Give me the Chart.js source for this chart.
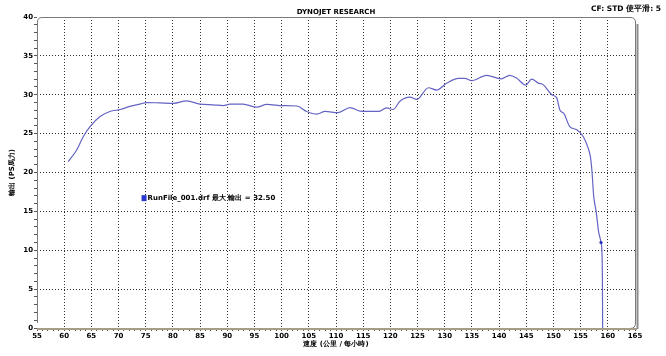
<!DOCTYPE html>
<html><head><meta charset="utf-8">
<script src="https://cdn.jsdelivr.net/npm/chart.js@4/dist/chart.umd.min.js"></script>
<style>html,body{margin:0;padding:0;background:#fff}#wrap{width:666px;height:356px}</style>
</head><body><div id="wrap"><canvas id="c" width="666" height="356"></canvas></div>
<script>
const speed = [60.75,62.3,63.5,64.75,66.6,68.4,70.3,72.1,73.9,75.2,77.6,80.1,82.5,85.0,87.4,89.3,90.5,92.9,95.4,97.25,100.3,102.8,104.6,106.5,108.0,110.4,112.6,114.4,117.8,119.3,120.5,121.8,123.6,124.85,127.0,128.5,130.4,132.5,133.7,134.95,137.7,140.4,141.95,143.2,144.9,146.0,147.2,148.1,149.7,150.6,151.2,151.9,153.0,154.3,155.5,156.4,156.8,157.1,157.4,157.9,158.3,158.75,158.9,159.0,159.05];
const power = [21.4,22.9,24.6,25.9,27.2,27.85,28.1,28.5,28.8,29.0,28.95,28.9,29.2,28.8,28.7,28.6,28.8,28.8,28.4,28.75,28.6,28.55,27.85,27.5,27.85,27.7,28.35,27.9,27.85,28.3,28.1,29.2,29.7,29.4,30.9,30.6,31.5,32.1,32.1,31.8,32.5,32.05,32.5,32.15,31.25,32.0,31.5,31.3,30.0,29.6,28.0,27.6,25.9,25.5,24.6,23.1,22.0,20.0,17.0,14.75,12.4,11.0,10.0,6.6,0];
const markerSpeed = 158.75;
const titleText = 'DYNOJET RESEARCH';
const cornerText = 'CF: STD 使平滑: 5';
const xTitle = '速度 (公里 / 每小時)';
const yTitle = '輸出 (PS馬力)';
const legendText = 'RunFile_001.drf 最大 輸出 = 32.50';
const legendPos = [74.6, 16.7];
const xRange = [55, 165];
const yRange = [0, 40];

const F = '"DejaVu Sans", Verdana, sans-serif';
const lineColor = '#6464c4';
const gridColor = '#303030';

const deco = {
  id: 'deco',
  afterDraw(chart) {
    const ctx = chart.ctx, a = chart.chartArea;
    const xs = chart.scales.x, ys = chart.scales.y;
    ctx.save();
    const r = 5;
    ctx.strokeStyle = '#7a7a7a';
    ctx.lineWidth = 1;
    ctx.beginPath();
    ctx.moveTo(a.left + r, a.top + 0.5);
    ctx.lineTo(a.right - r, a.top + 0.5);
    ctx.quadraticCurveTo(a.right + 0.5, a.top + 0.5, a.right + 0.5, a.top + r);
    ctx.lineTo(a.right + 0.5, a.bottom - r);
    ctx.quadraticCurveTo(a.right + 0.5, a.bottom + 0.5, a.right - r, a.bottom + 0.5);
    ctx.moveTo(a.left + 0.5, a.bottom - r);
    ctx.lineTo(a.left + 0.5, a.top + r);
    ctx.quadraticCurveTo(a.left + 0.5, a.top + 0.5, a.left + r, a.top + 0.5);
    ctx.stroke();
    ctx.strokeStyle = '#8c8c8c';
    ctx.lineWidth = 2;
    ctx.beginPath();
    ctx.moveTo(a.right + 2.5, a.top + r + 2);
    ctx.lineTo(a.right + 2.5, a.bottom + 1);
    ctx.stroke();
    ctx.strokeStyle = '#a59d86';
    ctx.lineWidth = 2;
    ctx.beginPath();
    ctx.moveTo(a.left, a.bottom + 1);
    ctx.lineTo(a.right + 2, a.bottom + 1);
    ctx.stroke();
    ctx.fillStyle = '#000';
    ctx.font = 'bold 7px ' + F;
    ctx.textAlign = 'center';
    ctx.textBaseline = 'middle';
    ctx.fillText(titleText, (a.left + a.right) / 2, 12);
    ctx.textAlign = 'right';
    ctx.font = 'bold 7.5px ' + F;
    ctx.fillText(cornerText, 661, 9);
    const lx = xs.getPixelForValue(legendPos[0]);
    const ly = ys.getPixelForValue(legendPos[1]);
    ctx.fillStyle = '#2a3ad0';
    ctx.fillRect(lx - 2, ly - 3, 5, 6);
    ctx.fillStyle = '#000';
    ctx.textAlign = 'left';
    ctx.font = 'bold 7px ' + F;
    ctx.fillText(legendText, lx + 4, ly + 0.5);
    ctx.restore();
  }
};

const majorColor = (c, range) => (c.tick && c.tick.value % 5 === 0 && c.tick.value > range[0] && c.tick.value < range[1]) ? gridColor : 'rgba(0,0,0,0)';

new Chart(document.getElementById('c'), {
  type: 'line',
  data: {
    datasets: [{
      data: speed.map((s, i) => ({x: s, y: power[i]})),
      borderColor: lineColor,
      borderWidth: 1.2,
      pointRadius: speed.map(s => s === markerSpeed ? 1.6 : 0),
      pointBackgroundColor: '#2030c0',
      pointBorderWidth: 0,
      cubicInterpolationMode: 'monotone',
      fill: false
    }]
  },
  options: {
    responsive: false,
    animation: false,
    events: [],
    layout: {padding: {left: 8, right: 31, top: 17, bottom: 8}},
    plugins: {legend: {display: false}, tooltip: {enabled: false}, title: {display: false}},
    scales: {
      x: {
        type: 'linear', min: xRange[0], max: xRange[1],
        afterFit(s) { s.height = 20; },
        afterBuildTicks(s) { const t = []; for (let v = xRange[0]; v <= xRange[1]; v++) t.push({value: v}); s.ticks = t; },
        border: {display: false, dash: [1, 2]},
        grid: {
          color: c => majorColor(c, xRange),
          tickColor: '#555', tickLength: 3, lineWidth: 1
        },
        ticks: {
          autoSkip: false, maxRotation: 0, padding: 1, color: '#000',
          font: {family: F, size: 7, weight: 'bold'},
          callback: v => (v % 5 === 0 ? String(v) : '')
        },
        title: {display: true, text: xTitle, color: '#000', font: {family: F, size: 7, weight: 'bold'}, padding: {top: 0, bottom: 0}}
      },
      y: {
        min: yRange[0], max: yRange[1],
        afterFit(s) { s.width = 29; },
        afterBuildTicks(s) { const t = []; for (let v = yRange[0]; v <= yRange[1]; v++) t.push({value: v}); s.ticks = t; },
        border: {display: false, dash: [1, 2]},
        grid: {
          color: c => majorColor(c, yRange),
          tickColor: '#555', tickLength: 3, lineWidth: 1
        },
        ticks: {
          autoSkip: false, padding: 1, color: '#000',
          font: {family: F, size: 7, weight: 'bold'},
          callback: v => (v % 5 === 0 ? String(v) : '')
        },
        title: {display: true, text: yTitle, color: '#000', font: {family: F, size: 7, weight: 'bold'}, padding: {top: 0, bottom: 2}}
      }
    }
  },
  plugins: [deco]
});
</script>
</body></html>
